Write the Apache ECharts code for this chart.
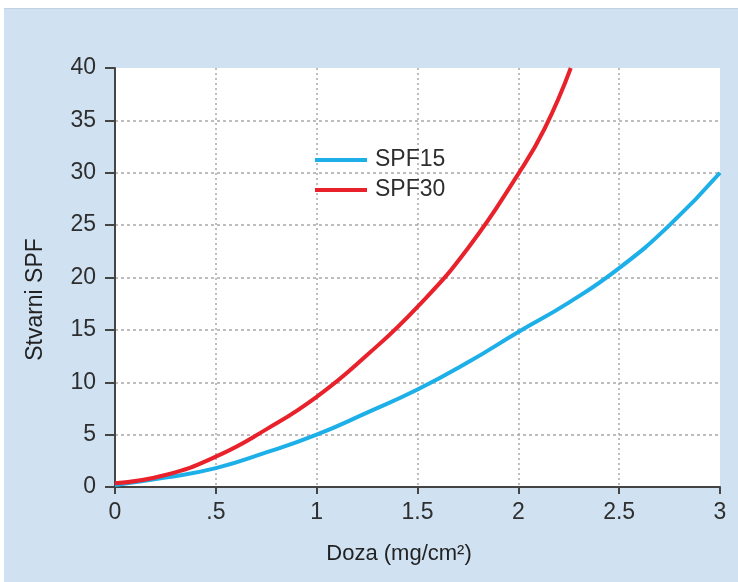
<!DOCTYPE html>
<html>
<head>
<meta charset="utf-8">
<script src="https://cdn.jsdelivr.net/npm/echarts@6/dist/echarts.min.js"></script>
<style>
  html, body { margin: 0; padding: 0; background: #ffffff; }
  #bg { position: absolute; left: 4px; top: 8px; width: 734px; height: 574px; background: #d0e2f2; border-top: 1px solid #bfd2e6; box-sizing: border-box; }
  #chart { position: absolute; left: 0; top: 0; width: 738px; height: 582px; }
</style>
</head>
<body>
<div id="bg"></div>
<div id="chart"></div>
<script>
// ---- data ----
const doses15 = [0, 0.25, 0.5, 0.75, 1, 1.25, 1.5, 1.75, 2, 2.25, 2.5, 2.75, 3];
const spf15   = [0.2, 0.9, 1.8, 3.3, 5.0, 7.1, 9.3, 11.9, 14.8, 17.6, 20.9, 25.0, 30.0];
const doses30 = [0, 0.25, 0.5, 0.75, 1, 1.25, 1.5, 1.75, 2, 2.13, 2.26];
const spf30   = [0.35, 1.15, 2.9, 5.5, 8.6, 12.6, 17.2, 22.8, 29.9, 34.2, 40];
const seriesNames = ['SPF15', 'SPF30'];
const xTickLabels = ['0', '.5', '1', '1.5', '2', '2.5', '3'];
const yTickLabels = ['0', '5', '10', '15', '20', '25', '30', '35', '40'];
const xAxisName = 'Doza (mg/cm²)';
const yAxisName = 'Stvarni SPF';

const pairs = (xs, ys) => xs.map((x, i) => [x, ys[i]]);
const FONT = 'Liberation Sans, Arial, Helvetica, sans-serif';
const axisColor = '#444444';
const textColor = '#2e2e2e';

const chart = echarts.init(document.getElementById('chart'), null, { renderer: 'canvas' });
chart.setOption({
  animation: false,
  backgroundColor: 'transparent',
  grid: {
    left: 115, right: 18, top: 68, bottom: 95,
    show: true, backgroundColor: '#ffffff', borderWidth: 0
  },
  legend: {
    data: seriesNames,
    orient: 'vertical',
    left: 310, top: 143,
    icon: 'rect',
    itemWidth: 52, itemHeight: 4,
    itemGap: 6,
    textStyle: { fontFamily: FONT, fontSize: 23, color: textColor, lineHeight: 24, padding: [0, 0, 0, 3] }
  },
  xAxis: {
    type: 'value', min: 0, max: 3, interval: 0.5,
    name: xAxisName, nameLocation: 'middle', nameGap: 56,
    nameTextStyle: { fontFamily: FONT, fontSize: 22, color: '#222', padding: [0, 37, 0, 0] },
    axisLine: { show: true, lineStyle: { color: axisColor, width: 2 } },
    axisTick: { show: true, length: 7, lineStyle: { color: axisColor, width: 2 } },
    axisLabel: {
      fontFamily: FONT, fontSize: 23, color: textColor, margin: 14,
      formatter: (v, i) => xTickLabels[i]
    },
    splitLine: {
      show: true, showMinLine: false, showMaxLine: false,
      lineStyle: { color: '#a8a8a8', width: 1.5, type: [2, 3] }
    }
  },
  yAxis: {
    type: 'value', min: 0, max: 40, interval: 5,
    name: yAxisName, nameLocation: 'middle', nameGap: 68, nameRotate: 90,
    nameTextStyle: { fontFamily: FONT, fontSize: 23, color: '#222', padding: [0, 44, 0, 0] },
    axisLine: { show: true, lineStyle: { color: axisColor, width: 2 } },
    axisTick: { show: true, length: 10, lineStyle: { color: axisColor, width: 2 } },
    axisLabel: {
      fontFamily: FONT, fontSize: 23, color: textColor, margin: 19,
      formatter: (v, i) => yTickLabels[i]
    },
    splitLine: {
      show: true, showMinLine: false, showMaxLine: false,
      lineStyle: { color: '#a8a8a8', width: 1.5, type: [3, 3] }
    }
  },
  series: [
    {
      name: seriesNames[0], type: 'line', data: pairs(doses15, spf15),
      smooth: true, showSymbol: false, clip: true,
      lineStyle: { color: '#1cafe8', width: 4 }, itemStyle: { color: '#1cafe8' }
    },
    {
      name: seriesNames[1], type: 'line', data: pairs(doses30, spf30),
      smooth: true, showSymbol: false, clip: true,
      lineStyle: { color: '#e8212b', width: 4 }, itemStyle: { color: '#e8212b' }
    }
  ]
});
</script>
</body>
</html>
